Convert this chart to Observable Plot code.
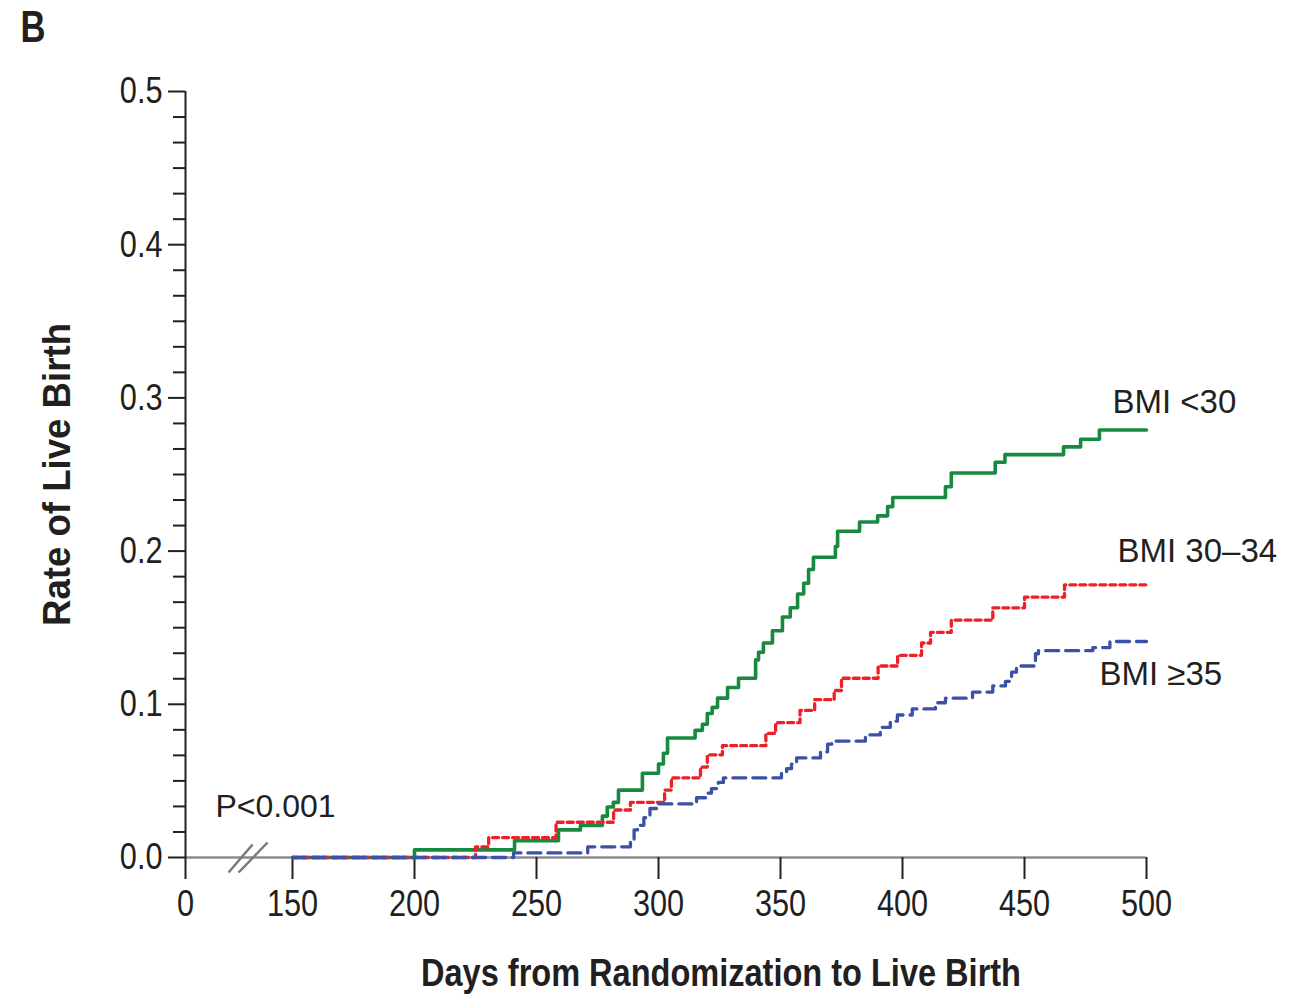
<!DOCTYPE html>
<html>
<head>
<meta charset="utf-8">
<script src="https://cdn.jsdelivr.net/npm/d3@7"></script>
<script src="https://cdn.jsdelivr.net/npm/@observablehq/plot@0.6"></script>
<style>
  html, body { margin: 0; padding: 0; background: #fff; }
  #chart { position: relative; width: 1292px; height: 996px; }
  svg { display: block; }
</style>
</head>
<body>
<div id="chart"></div>
<script>
// ---- data ----
const greenDays = [150,200,241,259,268,277,279,281.5,283.6,293.4,300,302,303.7,315,318,320,322,324.2,328.3,332.8,339.8,341,343,346.7,350.8,354,357,359.5,361.5,363.5,372.5,373.4,382.4,389.8,393.9,396,417.6,420,438,442,466,473,480.7,500];
const greenRate = [0,0.005,0.011,0.018,0.021,0.027,0.033,0.036,0.044,0.055,0.061,0.068,0.078,0.083,0.087,0.094,0.098,0.104,0.111,0.117,0.129,0.134,0.140,0.148,0.157,0.163,0.172,0.179,0.188,0.196,0.203,0.213,0.219,0.223,0.229,0.235,0.242,0.251,0.258,0.263,0.268,0.273,0.279,0.279];

const redDays = [150,225,230.4,258,281.6,288.5,302.5,305.3,317.2,320,326.2,344,348,358,364,372,375,390,398,407.8,411.5,420,437,450,466.4,500];
const redRate = [0,0.007,0.013,0.023,0.031,0.036,0.044,0.052,0.059,0.067,0.073,0.081,0.088,0.096,0.103,0.109,0.117,0.125,0.132,0.140,0.147,0.155,0.163,0.170,0.178,0.178];

const blueDays = [150,240.6,271,288.5,290,291.4,294,296.5,300,315.6,319.3,321.7,324.5,326.6,350.4,352.5,354.5,356.6,366.4,369.3,371,384.8,390.9,395,397.9,404,413.5,417.6,428.7,437,442.2,444.7,446.7,454.5,455.7,478,485,500];
const blueRate = [0,0.003,0.007,0.012,0.018,0.021,0.026,0.032,0.035,0.039,0.042,0.045,0.049,0.052,0.055,0.058,0.061,0.065,0.069,0.074,0.076,0.080,0.085,0.089,0.093,0.097,0.101,0.104,0.108,0.112,0.115,0.121,0.125,0.133,0.135,0.137,0.141,0.141];

const seriesNames = ["BMI <30", "BMI 30\u201334", "BMI \u226535"];
const xTicks = [0,150,200,250,300,350,400,450,500];
const yTicks = [0,0.1,0.2,0.3,0.4,0.5];
const yTickLabels = ["0.0","0.1","0.2","0.3","0.4","0.5"];
const axisBreak = [87];
const panelLabel = "B";
const pLabel = "P<0.001";
const xTitle = "Days from Randomization to Live Birth";
const yTitle = "Rate of Live Birth";

// ---- build ----
const toRows = (days, rates, name) => days.map((d, i) => ({day: d, rate: rates[i], group: name}));
const green = toRows(greenDays, greenRate, seriesNames[0]);
const red = toRows(redDays, redRate, seriesNames[1]);
const blue = toRows(blueDays, blueRate, seriesNames[2]);
const yMinor = d3.range(1, 30).filter(i => i % 6 !== 0).map(i => i / 60);

const FONT = "'Liberation Sans', Arial, sans-serif";
const INK = "#231f20";
const FS = 37;   // tick labels (condensed afterwards)
const LFS = 33;  // series labels

const breakSymbol = {
  draw(ctx) {
    ctx.moveTo(-19, 15); ctx.lineTo(5, -13);
    ctx.moveTo(-9, 15); ctx.lineTo(20, -15);
  }
};

const chart = Plot.plot({
  width: 1292,
  height: 996,
  marginLeft: 185,
  marginRight: 146,
  marginTop: 91,
  marginBottom: 139,
  style: {fontFamily: FONT, fontSize: FS + "px", color: INK, background: "#fff"},
  x: {type: "linear", domain: [0, 150, 500], range: [185, 292, 1146]},
  y: {domain: [0, 0.5], range: [857, 91]},
  marks: [
    Plot.ruleY([0], {stroke: "#8c8c8c", strokeWidth: 2.5}),
    Plot.dot(axisBreak, {x: d => d, y: 0, symbol: breakSymbol, r: 10, stroke: "#7a7a7a", strokeWidth: 2.5, fill: "none"}),
    Plot.ruleX([0], {y1: 0, y2: 0.5, stroke: INK, strokeWidth: 2}),
    Plot.axisX({ticks: xTicks, tickSize: 22, tickPadding: 10, stroke: INK, strokeWidth: 2, label: null, fontSize: FS, fill: INK}),
    Plot.axisY({ticks: yTicks, tickFormat: (d, i) => yTickLabels[i], tickSize: 17, tickPadding: 6, stroke: INK, strokeWidth: 2, label: null, fontSize: FS, fill: INK}),
    Plot.axisY({ticks: yMinor, tickFormat: null, text: null, tickSize: 12, stroke: INK, strokeWidth: 2, label: null}),
    Plot.line(green, {x: "day", y: "rate", curve: "step-after", stroke: "#178a40", strokeWidth: 3.6}),
    Plot.line(red, {x: "day", y: "rate", curve: "step-after", stroke: "#ee2028", strokeWidth: 3.3, strokeDasharray: "6,4"}),
    Plot.line(blue, {x: "day", y: "rate", curve: "step-after", stroke: "#3b50a6", strokeWidth: 3.3, strokeDasharray: "13,7"}),
    Plot.text(green.slice(-1), {x: "day", y: "rate", text: "group", textAnchor: "start", dx: -34, dy: -28, fontSize: LFS, fill: INK}),
    Plot.text(red.slice(-1), {x: "day", y: "rate", text: "group", textAnchor: "start", dx: -29, dy: -33, fontSize: LFS, fill: INK}),
    Plot.text(blue.slice(-1), {x: "day", y: "rate", text: "group", textAnchor: "start", dx: -47, dy: 33, fontSize: LFS, fill: INK}),
    Plot.text([pLabel], {frameAnchor: "bottom-left", textAnchor: "start", dx: 30, dy: -41, fontSize: 32, fill: INK}),
    Plot.text([xTitle], {frameAnchor: "bottom", textAnchor: "middle", dx: 55, dy: 128, fontSize: 38, fontWeight: "bold", fill: INK}),
    Plot.text([yTitle], {frameAnchor: "left", textAnchor: "middle", rotate: -90, dx: -128, fontSize: 38, fontWeight: "bold", fill: INK}),
    Plot.text([panelLabel], {frameAnchor: "top-left", textAnchor: "start", dx: -165, dy: -81, fontSize: 45, fontWeight: "bold", fill: INK})
  ]
});
document.getElementById("chart").appendChild(chart);

// condense tick labels and titles to mimic the narrow typeface of the original
const fixedLengths = new Map([[xTitle, 600], [yTitle, 303], [panelLabel, 25]]);
const condensed = new Set([...xTicks.map(String), ...yTickLabels]);
chart.querySelectorAll("text").forEach(t => {
  const s = t.textContent;
  let target = null;
  if (fixedLengths.has(s)) target = fixedLengths.get(s);
  else if (condensed.has(s)) target = t.getComputedTextLength() * 0.83;
  if (target == null || !isFinite(target) || target <= 0) return;
  t.setAttribute("textLength", target.toFixed(1));
  t.setAttribute("lengthAdjust", "spacingAndGlyphs");
});
</script>
</body>
</html>
